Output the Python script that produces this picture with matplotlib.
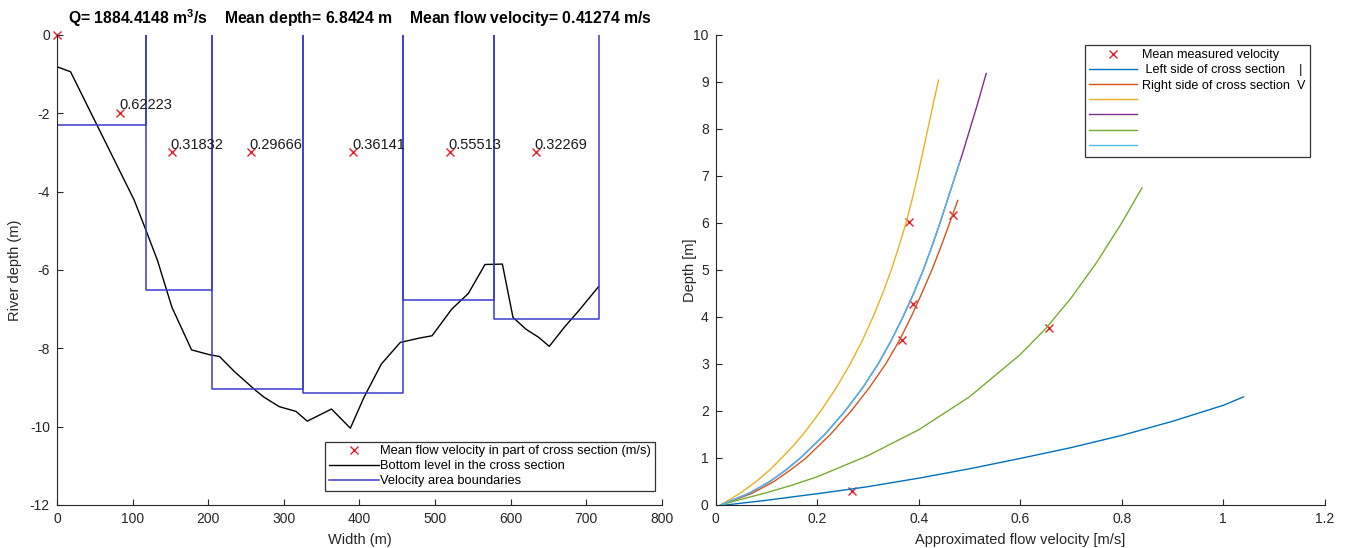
import numpy as np
import matplotlib
matplotlib.use("Agg")
import matplotlib.pyplot as plt
from matplotlib.lines import Line2D

plt.rcParams['font.family'] = ['Liberation Sans', 'DejaVu Sans']
plt.rcParams['mathtext.fontset'] = 'custom'
plt.rcParams['mathtext.rm'] = 'Liberation Sans'
plt.rcParams['mathtext.bf'] = 'Liberation Sans:bold'
plt.rcParams['axes.unicode_minus'] = False

GRAY = '#262626'

# |>- Left panel: cross section -<|
bed_x = [0, 18, 102, 117, 133, 152, 178, 201, 215, 235, 263, 274, 294, 316, 331,
         363, 388, 406, 429, 454, 479, 496, 522, 544, 566, 589, 603, 620, 637,
         651, 671, 690, 716]
bed_y = [-0.81, -0.94, -4.21, -4.95, -5.76, -6.95, -8.04, -8.16, -8.21, -8.6,
         -9.08, -9.25, -9.49, -9.61, -9.86, -9.55, -10.04, -9.25, -8.4, -7.85,
         -7.74, -7.68, -7.0, -6.6, -5.86, -5.85, -7.21, -7.51, -7.72, -7.95,
         -7.46, -7.04, -6.43]

bounds_x = [0, 117.6, 204.8, 326, 458, 578, 717]
section_depth = [2.30, 6.51, 9.04, 9.15, 6.77, 7.26]

vel_x = [0, 84, 152, 257, 392, 520, 633]
vel_y = [0, -2, -3, -3, -3, -3, -3]
vel_labels = ['', '0.62223', '0.31832', '0.29666', '0.36141', '0.55513', '0.32269']

title_txt = (r'Q= 1884.4148 m$^{\mathbf{3}}$/s    Mean depth= 6.8424 m    '
             r'Mean flow velocity= 0.41274 m/s')

# |>- Right panel: velocity profiles (velocity, depth) -<|
meas_v = [0.268, 0.368, 0.388, 0.380, 0.468, 0.656]
meas_h = [0.30, 3.51, 4.27, 6.02, 6.16, 3.77]

blue_v = [0.02, 0.1, 0.2, 0.268, 0.3, 0.4, 0.5, 0.6, 0.7, 0.8, 0.9, 1.0, 1.04]
blue_h = [0.0, 0.1, 0.24, 0.34, 0.39, 0.57, 0.77, 0.99, 1.22, 1.48, 1.78, 2.12, 2.30]

red_h = [0.0, 0.25, 0.5, 0.75, 1.0, 1.5, 2.0, 2.5, 3.0, 3.5, 4.0, 4.5, 5.0, 5.5,
         6.0, 6.48]
red_v = [0.01, 0.072, 0.115, 0.148, 0.178, 0.226, 0.267, 0.303, 0.335, 0.362,
         0.385, 0.406, 0.426, 0.444, 0.461, 0.477]

yel_h = [0.0, 0.25, 0.5, 0.75, 1.0, 1.25, 1.5, 2.0, 2.5, 3.0, 3.5, 4.0, 4.5, 5.0,
         5.5, 6.0, 6.5, 7.0, 7.5, 8.0, 8.5, 9.04]
yel_v = [0.01, 0.048, 0.08, 0.107, 0.13, 0.152, 0.172, 0.207, 0.238, 0.265, 0.289,
         0.31, 0.329, 0.346, 0.361, 0.375, 0.387, 0.398, 0.408, 0.418, 0.428, 0.439]

pur_h = [0.0, 0.25, 0.5, 0.75, 1.0, 1.5, 2.0, 2.5, 3.0, 3.5, 4.0, 4.5, 5.0, 5.5,
         6.0, 6.5, 7.0, 7.5, 8.0, 8.5, 9.18]
pur_v = [0.01, 0.066, 0.107, 0.139, 0.167, 0.215, 0.255, 0.29, 0.32, 0.346, 0.369,
         0.39, 0.409, 0.426, 0.442, 0.457, 0.472, 0.487, 0.501, 0.515, 0.533]

grn_v = [0.01, 0.05, 0.1, 0.15, 0.2, 0.3, 0.4, 0.5, 0.6, 0.65, 0.7, 0.75, 0.8, 0.84]
grn_h = [0.0, 0.12, 0.26, 0.42, 0.6, 1.05, 1.6, 2.3, 3.2, 3.75, 4.4, 5.15, 6.0, 6.75]

cyn_h = [0.0, 0.25, 0.5, 0.75, 1.0, 1.5, 2.0, 2.5, 3.0, 3.5, 4.0, 4.5, 5.0, 5.5,
         6.0, 6.5, 7.0, 7.3]
cyn_v = [0.01, 0.066, 0.107, 0.139, 0.167, 0.215, 0.255, 0.29, 0.32, 0.346, 0.369,
         0.39, 0.409, 0.426, 0.442, 0.457, 0.472, 0.481]

profile_labels = ['Mean measured velocity', ' Left side of cross section    |',
                  'Right side of cross section  V', ' ', ' ', ' ', ' ']

colors = ['#0072BD', '#D95319', '#EDB120', '#7E2F8E', '#77AC30', '#4DBEEE']
RED = '#e8202a'

# |>- Figure -<|
fig = plt.figure(figsize=(13.46, 5.48), dpi=100)
ax1 = fig.add_axes([0.0423, 0.0785, 0.4495, 0.8577])
ax2 = fig.add_axes([0.5317, 0.0785, 0.4525, 0.8577])

# left
ax1.plot(vel_x, vel_y, 'x', color=RED, ms=5.5, mew=1.0, clip_on=False,
         label='Mean flow velocity in part of cross section (m/s)')
ax1.plot(bed_x, bed_y, color='k', lw=1.0, label='Bottom level in the cross section')
for i in range(len(section_depth)):
    ax1.plot([bounds_x[i], bounds_x[i], bounds_x[i + 1], bounds_x[i + 1]],
             [0, -section_depth[i], -section_depth[i], 0], color='#3a3ad0', lw=1.1,
             label='Velocity area boundaries' if i == 0 else None)
for x, y, t in zip(vel_x, vel_y, vel_labels):
    ax1.text(x - 2, y + 0.2, t, fontsize=10.5, color='#1a1a1a', va='center', ha='left')

ax1.set_xlim(0, 800)
ax1.set_ylim(-12, 0)
ax1.set_xticks(range(0, 801, 100))
ax1.set_yticks(range(-12, 1, 2))
ax1.set_xlabel('Width (m)', fontsize=10.5, color=GRAY, labelpad=5)
ax1.set_ylabel('River depth (m)', fontsize=10.5, color=GRAY)
ax1.yaxis.set_label_coords(-0.057, 0.5)
ax1.set_title(title_txt, fontsize=11.3, fontweight='bold', pad=8)
leg1 = ax1.legend(loc='lower right', bbox_to_anchor=(0.988, 0.03), fontsize=9.25,
                  fancybox=False, edgecolor='k', handlelength=3.9, labelspacing=0.22,
                  borderpad=0.3, handletextpad=0.1, borderaxespad=0)
leg1.get_frame().set_linewidth(0.9)

# right
ax2.plot(meas_v, meas_h, 'x', color=RED, ms=5.5, mew=1.0)
ax2.plot(blue_v, blue_h, color=colors[0], lw=1.0)
ax2.plot(red_v, red_h, color=colors[1], lw=1.0)
ax2.plot(yel_v, yel_h, color=colors[2], lw=1.0)
ax2.plot(pur_v, pur_h, color=colors[3], lw=1.0)
ax2.plot(grn_v, grn_h, color=colors[4], lw=1.0)
ax2.plot(cyn_v, cyn_h, color=colors[5], lw=1.0)

handles = [Line2D([], [], ls='none', marker='x', color=RED, ms=5.5, mew=1.0)]
handles += [Line2D([], [], color=c, lw=1.0) for c in colors]
leg2 = ax2.legend(handles, profile_labels, loc='upper right',
                  bbox_to_anchor=(0.976, 0.979), fontsize=9.1, fancybox=False,
                  edgecolor='k', handlelength=3.8, labelspacing=0.25, borderpad=0.35,
                  handletextpad=0.4, borderaxespad=0)
leg2.get_frame().set_linewidth(0.9)

ax2.set_xlim(0, 1.2)
ax2.set_ylim(0, 10)
ax2.set_xticks([0, 0.2, 0.4, 0.6, 0.8, 1.0, 1.2])
ax2.set_xticklabels(['0', '0.2', '0.4', '0.6', '0.8', '1', '1.2'])
ax2.set_yticks(range(0, 11))
ax2.set_xlabel('Approximated flow velocity [m/s]', fontsize=10.5, color=GRAY, labelpad=5)
ax2.set_ylabel('Depth [m]', fontsize=10.5, color=GRAY)
ax2.yaxis.set_label_coords(-0.031, 0.5)

for ax in (ax1, ax2):
    ax.spines['top'].set_visible(False)
    ax.spines['right'].set_visible(False)
    for s in ('left', 'bottom'):
        ax.spines[s].set_color(GRAY)
        ax.spines[s].set_linewidth(0.8)
    ax.tick_params(direction='in', length=4, width=0.8, colors=GRAY,
                   labelsize=10, pad=5)

plt.savefig('out.png', dpi=100)
